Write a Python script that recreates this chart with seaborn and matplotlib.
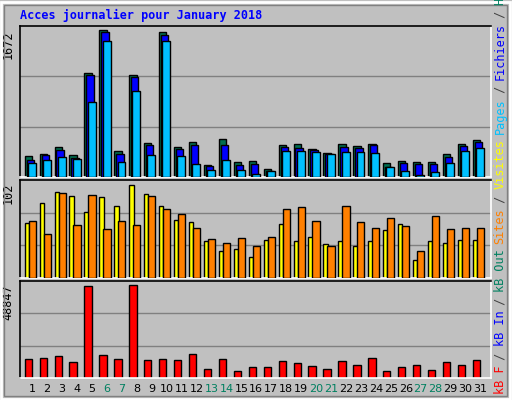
import matplotlib
matplotlib.use("Agg")
import matplotlib.pyplot as plt
import seaborn as sns
import numpy as np
from matplotlib.patches import Rectangle

days = list(range(1, 32))
hits = [242,265,337,253,1188,1672,299,1161,390,1649,344,401,140,435,174,185,95,367,378,322,276,378,356,378,163,185,174,174,265,378,424]
files = [197,253,310,219,1161,1649,265,1139,367,1615,322,367,129,367,140,151,72,344,333,310,265,344,333,367,117,163,151,151,231,356,401]
pages = [163,197,231,208,855,1547,174,980,253,1547,242,151,83,197,83,38,72,299,299,288,265,288,288,276,117,72,26,61,163,299,333]
visits = [60,82,94,90,72,88,79,102,92,79,63,61,40,29,32,23,42,59,40,45,37,40,35,40,52,59,20,40,38,41,41]
sites = [62,48,93,58,91,53,62,58,89,75,70,55,43,38,44,35,45,75,78,62,35,79,61,55,65,57,29,68,54,55,55]
kbytes = [9805,10340,11410,8200,48300,11950,9805,48847,9270,9805,9270,12480,4990,9805,3920,5530,5530,8740,7670,6060,4990,8740,6600,10340,3920,5530,6600,4460,8200,6600,9270]
weekend = [6,7,13,14,20,21,27,28]
max_hits, max_visits, max_kb = "1672", "102", "48847"

sns.set_style("white")
plt.rcParams['font.family'] = ['DejaVu Sans Mono', 'DejaVu Sans']
BG = "#C0C0C0"
fig = plt.figure(figsize=(5.12, 4.0), dpi=100, facecolor=BG)
W, H = 512, 400
fig.patches.append(Rectangle((1/W, 1/H), 509/W, 397/H, transform=fig.transFigure,
                             fill=False, edgecolor="white", lw=2))
fig.patches.append(Rectangle((4/W, 4/H), 503/W, 391/H, transform=fig.transFigure,
                             fill=False, edgecolor="#808080", lw=1))
def axes(top, bottom):
    return fig.add_axes([20/W, 1-bottom/H, 471/W, (bottom-top)/H], facecolor=BG)

x = np.array(days)
ec = dict(edgecolor="black", linewidth=1, align="edge")

def style(ax, ylim, label):
    ax.set_xlim(0.18, 31.71)
    ax.set_ylim(0, ylim)
    for g in (ylim/3, 2*ylim/3):
        ax.axhline(g, color="#808080", lw=1, zorder=0)
    ax.set_xticks([]); ax.set_yticks([])
    for s in ("left", "top"):
        ax.spines[s].set_color("black")
    for s in ("right", "bottom"):
        ax.spines[s].set_color("white")
    for s in ax.spines.values():
        s.set_linewidth(1.2)
    ax.text(-0.012, 0.97, label, transform=ax.transAxes, rotation=90,
            ha="right", va="top", fontsize=8.5, color="black")

a1 = axes(26, 177)
a1.bar(x-0.51, hits, width=0.49, color="#006e50", zorder=2, **ec)
a1.bar(x-0.38, files, width=0.49, color="#0000FF", zorder=3, **ec)
a1.bar(x-0.29, pages, width=0.53, color="#00C0FF", zorder=4, **ec)
style(a1, 1721, max_hits)

a2 = axes(180, 278)
a2.bar(x-0.51, visits, width=0.29, color="#FFFF00", zorder=2, **ec)
a2.bar(x-0.24, sites, width=0.48, color="#FF8000", zorder=3, **ec)
style(a2, 107, max_visits)

a3 = axes(281, 378)
a3.bar(x-0.51, kbytes, width=0.49, color="#FF0000", zorder=2, **ec)
style(a3, 51000, max_kb)

for d in days:
    fig.text((20 + (d-0.18)/(31.71-0.18)*471)/W, 1-389/H, str(d), ha="center", va="center",
             fontsize=8, family="DejaVu Sans",
             color="#008060" if d in weekend else "black")

fig.text(20/W, 1-15/H, "Acces journalier pour January 2018", color="#0000FF",
         fontsize=8.5, fontweight="bold", ha="left", va="center")

parts = [("kB F", "#FF0000"), (" / ", "#404040"), ("kB In", "#0000FF"), (" / ", "#404040"),
         ("kB Out", "#008060"), (" ", "#404040"), ("Sites", "#FF8000"), (" / ", "#404040"),
         ("Visites", "#FFFF00"), (" ", "#404040"), ("Pages", "#00C0FF"), (" / ", "#404040"),
         ("Fichiers", "#0000FF"), (" / ", "#404040"), ("Hits", "#008060")]
renderer = fig.canvas.get_renderer()
y = 6.0
for t, c in parts:
    tx = fig.text(500/W, y/H, t, rotation=90, color=c, fontsize=8.6, ha="center", va="bottom")
    y += len(t) * 6.9 * 0.99

fig.savefig("out.png", dpi=100, facecolor=BG)
